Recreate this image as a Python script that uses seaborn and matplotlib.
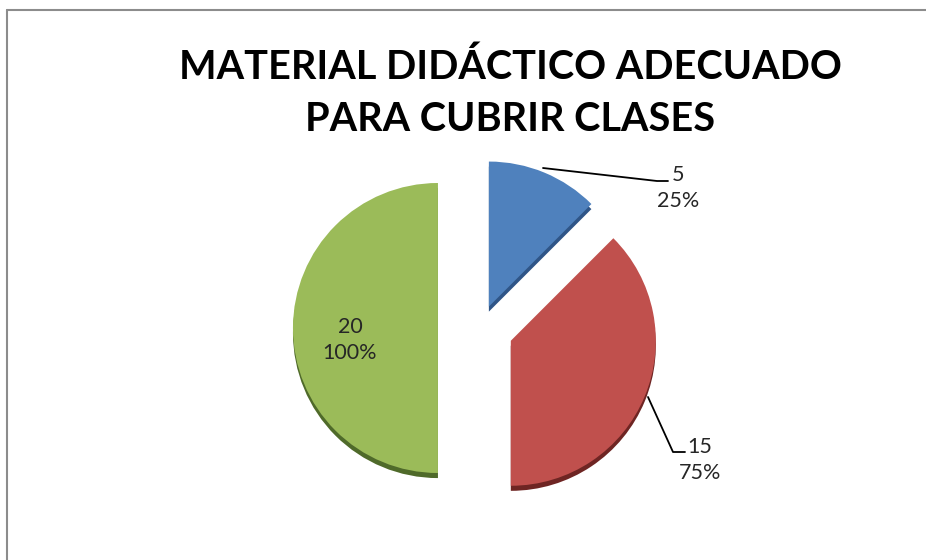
import matplotlib
matplotlib.use("Agg")
import matplotlib.pyplot as plt
import seaborn as sns
from matplotlib.lines import Line2D

sns.set_theme(style="white")
plt.rcParams['font.family'] = ['Lato', 'DejaVu Sans']

# Data
categories = ["A", "B", "C"]
values = [5, 15, 20]
label_pct = ["25%", "75%", "100%"]
colors = ["#4F81BD", "#C0504D", "#9BBB59"]
shadow_colors = ["#2f5587", "#6e2523", "#4f6a2a"]
explode = [0.16, 0.23, 0.29]
title = "MATERIAL DIDÁCTICO ADECUADO\nPARA CUBRIR CLASES"

W, H = 926, 560
R = 145.0
cx, cy = 480.0, 328.0

fig = plt.figure(figsize=(W / 100, H / 100), dpi=100)
fig.patch.set_facecolor("white")
ax = fig.add_axes([0, 0, 1, 1])

def px(x, y):
    return ((x - cx) / R, (cy - y) / R)

# shadow / thickness
ax.pie(values, colors=shadow_colors, explode=explode, startangle=90,
       counterclock=False, radius=1.0, center=(0.0, -0.035),
       wedgeprops=dict(linewidth=0))
ax.pie(values, colors=colors, explode=explode, startangle=90,
       counterclock=False, radius=1.0, center=(0.0, 0.0),
       wedgeprops=dict(linewidth=0))
ax.set_xlim(-cx / R, (W - cx) / R)
ax.set_ylim(-(H - cy) / R, cy / R)
ax.set_aspect("equal")
ax.axis("off")

# labels
lab_pos = [(678, 188), (700, 460), (350, 340)]
for v, p, (x, y) in zip(values, label_pct, lab_pos):
    tx, ty = px(x, y)
    ax.text(tx, ty, f"{v}\n{p}", ha="center", va="center", fontsize=15.5,
            color="#262626", linespacing=1.35)

# leader lines
for pts in ([(543, 168), (657, 181), (668, 181)],
            [(648, 397), (673, 452), (685, 452)]):
    xs, ys = zip(*[px(a, b) for a, b in pts])
    ax.plot(xs, ys, color="black", lw=1.3)

# title
fig.text(510 / W, 1 - 93 / H, title, ha="center", va="center",
         fontsize=28.5, fontweight="bold", color="black", linespacing=1.5)

# chart border (left and top visible)
fig.add_artist(Line2D([7 / W, 7 / W], [0, 1 - 10 / H], color="#8c8c8c", lw=1.5,
                      transform=fig.transFigure))
fig.add_artist(Line2D([7 / W, 1], [1 - 10 / H, 1 - 10 / H], color="#8c8c8c",
                      lw=1.5, transform=fig.transFigure))

fig.savefig("out.png", dpi=100, facecolor="white")
